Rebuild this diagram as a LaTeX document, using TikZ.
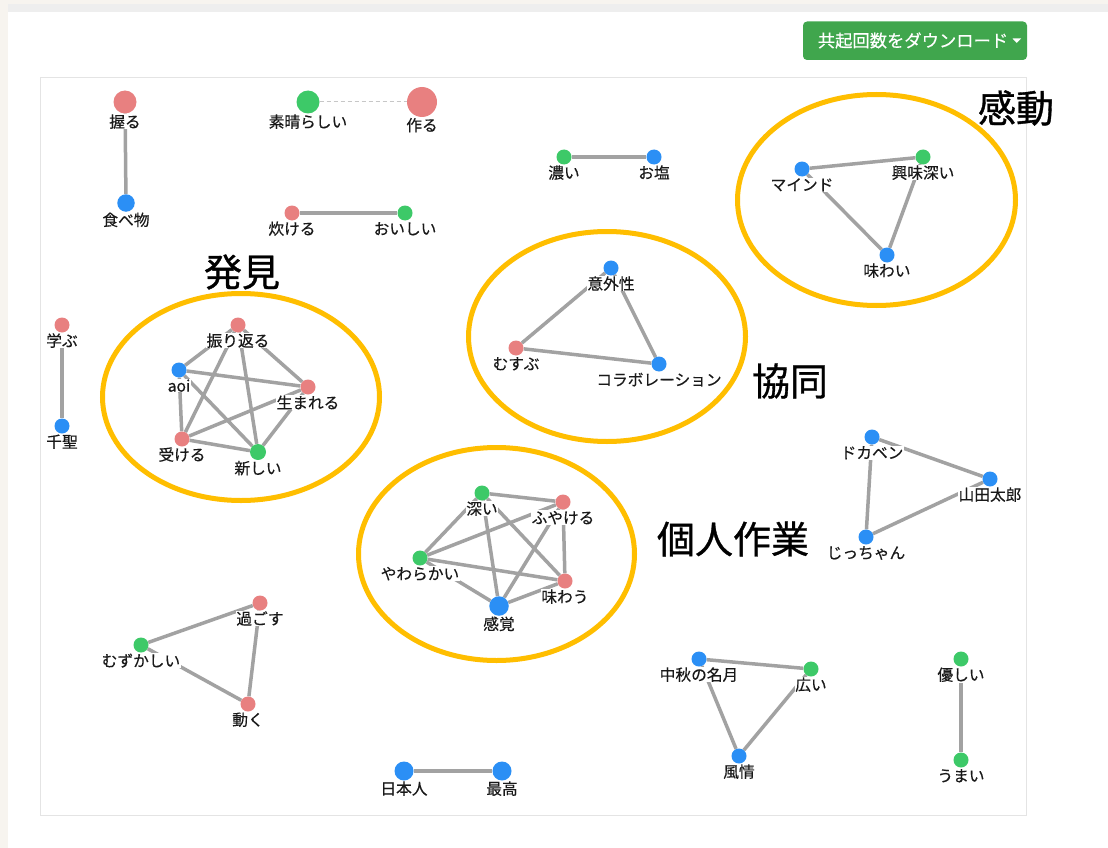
\documentclass[tikz,border=0pt]{standalone}
\usepackage{fontspec}
\setmainfont{Noto Sans CJK JP}
\newfontfamily\jpmid[FakeBold=0.35]{Noto Sans CJK JP}
\newfontfamily\jpbig[FakeBold=0.9]{Noto Sans CJK JP}
\pgfdeclarelayer{bg}
\pgfdeclarelayer{edgelayer}
\pgfsetlayers{bg,edgelayer,main}
\definecolor{nred}{RGB}{232,128,128}
\definecolor{nblue}{RGB}{43,143,245}
\definecolor{ngreen}{RGB}{61,201,104}
\definecolor{egray}{RGB}{162,162,162}
\definecolor{hl}{RGB}{255,190,0}
\definecolor{btn}{RGB}{64,166,77}
\definecolor{pagebg}{RGB}{247,244,239}
\definecolor{band}{RGB}{238,238,238}
\definecolor{framec}{RGB}{228,228,228}
\definecolor{txt}{RGB}{25,25,25}
\newcommand\gnode[6]{%
  \node[vnode,fill=#4,minimum size=#5pt] (#1) at (#2,#3) {};
  \node[lbl] (#1-l) at ([yshift=-13.9pt]#1.south) {#6};}
\begin{document}
\begin{tikzpicture}[x=1pt,y=-1pt,
  vnode/.style={circle,inner sep=0pt,draw=none},
  lbl/.style={anchor=base,fill=white,inner sep=0.6pt,text=txt,font=\jpmid\fontsize{15.7}{15.7}\selectfont},
  edge/.style={draw=egray,line width=3.5pt},
  dashededge/.style={draw=black!22,line width=1pt,dash pattern=on 4pt off 3pt},
  hlring/.style={draw=hl,line width=5pt},
  biglbl/.style={text=black,inner sep=0pt,font=\jpbig\fontsize{38}{38}\selectfont},
  btnbox/.style={fill=btn,rounded corners=4pt,draw=none},
  btntext/.style={text=white,inner sep=0pt,font=\jpmid\fontsize{17.3}{17.3}\selectfont}]
\useasboundingbox (0,0) rectangle (1108,848);
\begin{pgfonlayer}{bg}
  \fill[pagebg] (0,0) rectangle (1108,848);
  \fill[white] (8,12.5) rectangle (1108,848);
  \fill[band] (8,4) rectangle (1108,12.5);
  \draw[framec,line width=1pt] (40.5,77.5) rectangle (1026.5,815.5);
\end{pgfonlayer}

% nodes
\gnode{nigiru}{125}{102}{nred}{23}{握る}
\gnode{tabemono}{126}{203}{nblue}{17.5}{食べ物}
\gnode{subarashii}{308}{102}{ngreen}{23}{素晴らしい}
\gnode{tsukuru}{422}{102}{nred}{30}{作る}
\gnode{takeru}{292}{213}{nred}{15}{炊ける}
\gnode{oishii}{405}{213}{ngreen}{15}{おいしい}
\gnode{koi}{564}{157}{ngreen}{15}{濃い}
\gnode{oshio}{654}{157}{nblue}{15}{お塩}
\gnode{mind}{802}{169}{nblue}{15}{マインド}
\gnode{kyomi}{923}{157}{ngreen}{15}{興味深い}
\gnode{ajiwai}{887}{255}{nblue}{15}{味わい}
\gnode{igai}{611}{268}{nblue}{15}{意外性}
\gnode{musubu}{516}{348}{nred}{15}{むすぶ}
\gnode{collab}{659}{364}{nblue}{15}{コラボレーション}
\gnode{manabu}{62}{325}{nred}{15}{学ぶ}
\gnode{chisato}{62}{426}{nblue}{15}{千聖}
\gnode{furikaeru}{238}{325}{nred}{15}{振り返る}
\gnode{aoi}{179}{370}{nblue}{15}{aoi}
\gnode{umareru}{308}{387}{nred}{15}{生まれる}
\gnode{ukeru}{182}{439}{nred}{15}{受ける}
\gnode{atarashii}{258}{452}{ngreen}{16}{新しい}
\gnode{fukai}{482}{493}{ngreen}{15}{深い}
\gnode{fuyakeru}{563}{502}{nred}{15}{ふやける}
\gnode{yawarakai}{420}{558}{ngreen}{15}{やわらかい}
\gnode{ajiwau}{565}{581}{nred}{15}{味わう}
\gnode{kankaku}{499}{606}{nblue}{19.5}{感覚}
\gnode{sugosu}{260}{603}{nred}{15}{過ごす}
\gnode{muzukashii}{141}{645}{ngreen}{15}{むずかしい}
\gnode{ugoku}{248}{704}{nred}{15}{動く}
\gnode{dokaben}{872}{437}{nblue}{15}{ドカベン}
\gnode{yamada}{990}{479}{nblue}{15}{山田太郎}
\gnode{jicchan}{866}{537}{nblue}{15}{じっちゃん}
\gnode{chushu}{699}{659}{nblue}{15}{中秋の名月}
\gnode{hiroi}{811}{669}{ngreen}{15}{広い}
\gnode{fuzei}{739}{756}{nblue}{15}{風情}
\gnode{yasashii}{961}{659}{ngreen}{15}{優しい}
\gnode{umai}{961}{760}{ngreen}{15}{うまい}
\gnode{nihonjin}{404}{771}{nblue}{19}{日本人}
\gnode{saiko}{502}{771}{nblue}{19}{最高}

% edges
\begin{pgfonlayer}{edgelayer}
  \foreach \a/\b in {nigiru/tabemono, takeru/oishii, koi/oshio,
    mind/kyomi, mind/ajiwai, kyomi/ajiwai,
    igai/musubu, igai/collab, musubu/collab,
    manabu/chisato,
    furikaeru/aoi, furikaeru/umareru, furikaeru/ukeru, furikaeru/atarashii,
    aoi/umareru, aoi/ukeru, aoi/atarashii, umareru/ukeru, umareru/atarashii, ukeru/atarashii,
    fukai/fuyakeru, fukai/yawarakai, fukai/kankaku, fukai/ajiwau,
    fuyakeru/yawarakai, fuyakeru/kankaku, fuyakeru/ajiwau,
    yawarakai/ajiwau, yawarakai/kankaku, ajiwau/kankaku,
    sugosu/muzukashii, sugosu/ugoku, muzukashii/ugoku,
    dokaben/yamada, dokaben/jicchan, yamada/jicchan,
    chushu/hiroi, chushu/fuzei, hiroi/fuzei,
    yasashii/umai, nihonjin/saiko}
    \draw[edge] (\a) -- (\b);
  \draw[dashededge] (subarashii) -- (tsukuru);
\end{pgfonlayer}

% highlight rings
\draw[hlring] (241,397) ellipse [x radius=138.5pt, y radius=103.5pt];
\draw[hlring] (607,336.5) ellipse [x radius=138.5pt, y radius=105pt];
\draw[hlring] (876.5,200) ellipse [x radius=139pt, y radius=105.5pt];
\draw[hlring] (496.5,554) ellipse [x radius=138pt, y radius=106.5pt];

% group titles
\node[biglbl] (t-hakken) at (242,272) {発見};
\node[biglbl] (t-kyodo) at (790,381) {協同};
\node[biglbl] (t-kando) at (1016,108) {感動};
\node[biglbl] (t-kojin) at (733,539) {個人作業};

% download button
\fill[btnbox] (803,21.5) rectangle (1027,60);
\node[btntext] (btn) at (913,40.5) {共起回数をダウンロード};
\fill[white] (1012.5,38.5) -- (1021,38.5) -- (1016.75,43) -- cycle;
\end{tikzpicture}
\end{document}
